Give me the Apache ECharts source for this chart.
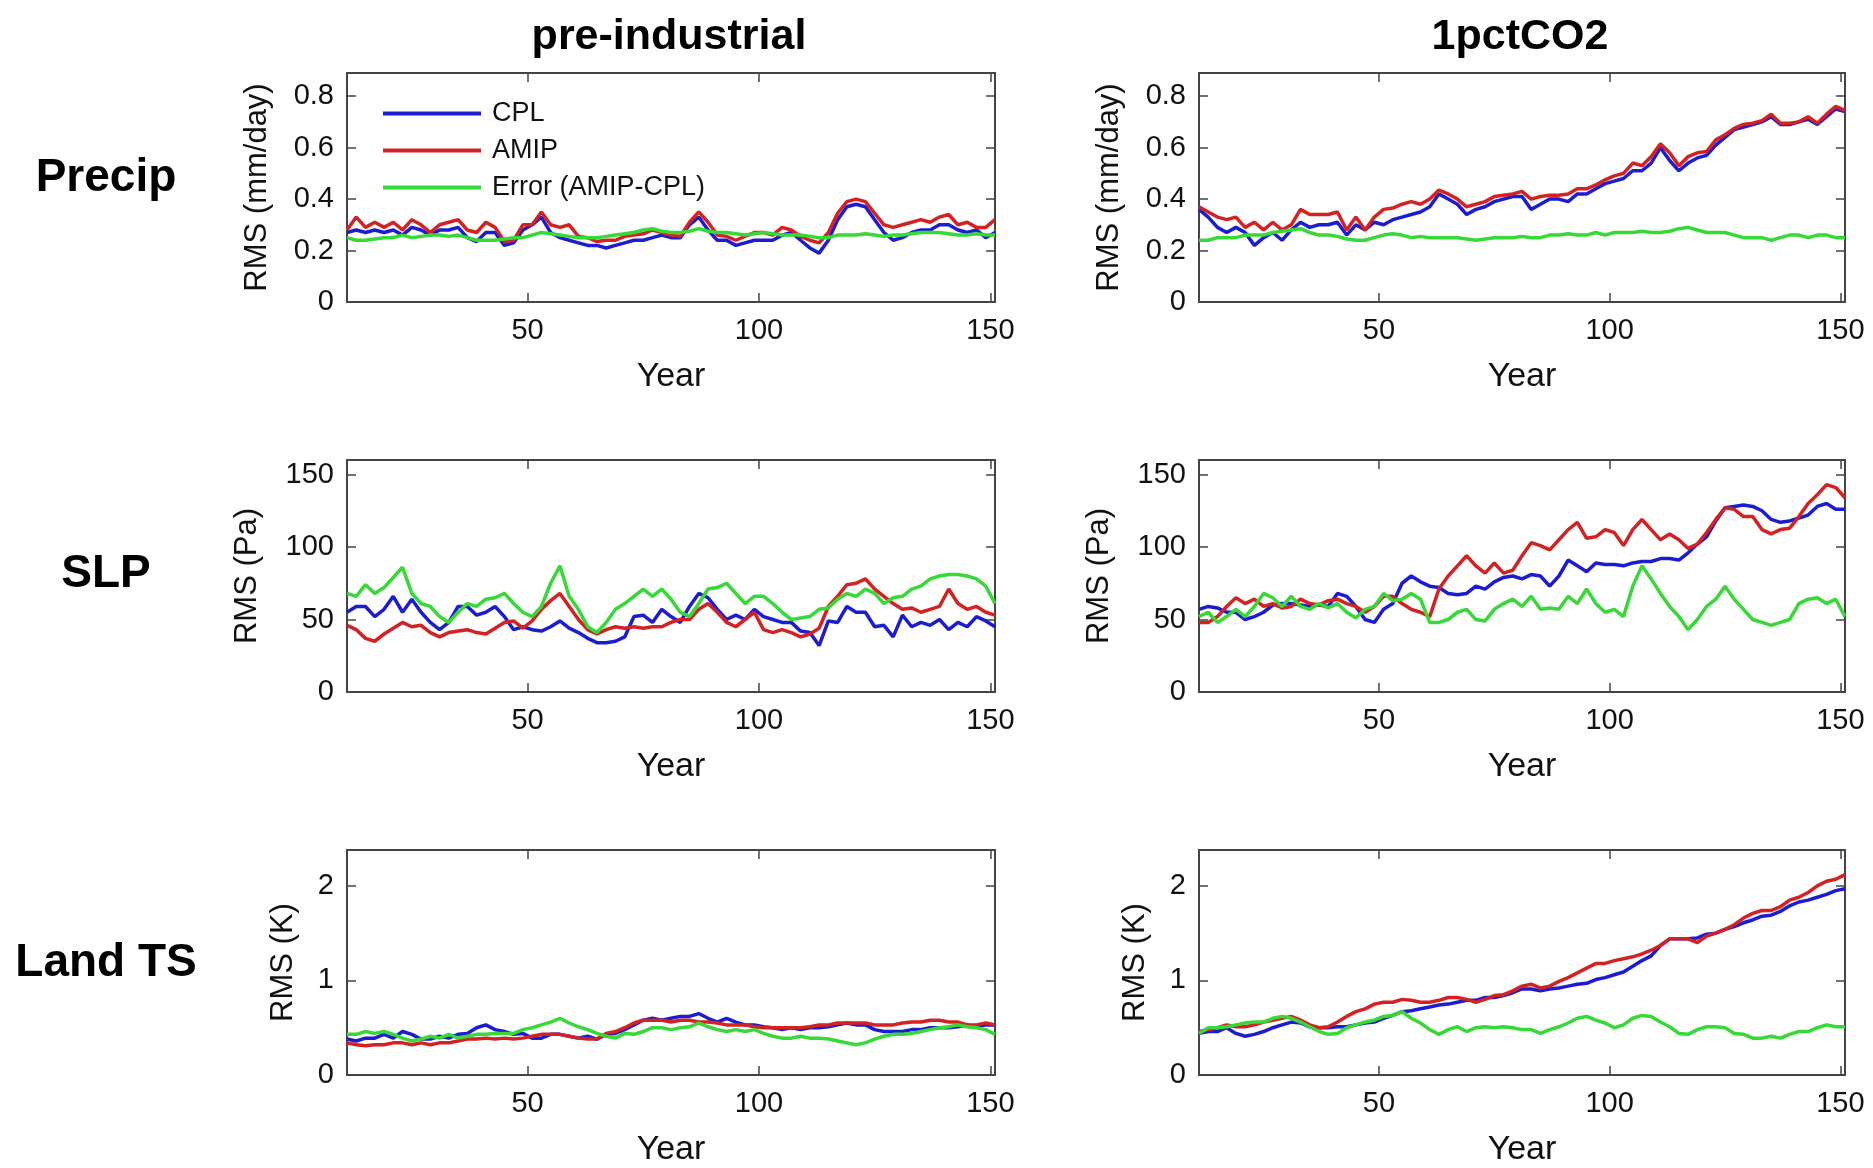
<!DOCTYPE html>
<html><head><meta charset="utf-8">
<script src="https://cdn.jsdelivr.net/npm/echarts@6.0.0/dist/echarts.min.js"></script>
<style>html,body{margin:0;padding:0;background:#fff}#c{width:1873px;height:1168px}</style>
</head><body><div id="c"></div>
<script>
// ---------- data ----------
const YEARS = [11,13,15,17,19,21,23,25,27,29,31,33,35,37,39,41,43,45,47,49,51,53,55,57,59,61,63,65,67,69,71,73,75,77,79,81,83,85,87,89,91,93,95,97,99,101,103,105,107,109,111,113,115,117,119,121,123,125,127,129,131,133,135,137,139,141,143,145,147,149,151];
const X_TICKS = [50, 100, 150];
const PRECIP_TICKS = [0, 0.2, 0.4, 0.6, 0.8];
const SLP_TICKS = [0, 50, 100, 150];
const TS_TICKS = [0, 1, 2];
const COLUMN_TITLES = ['pre-industrial', '1pctCO2'];
const ROW_TITLES = ['Precip', 'SLP', 'Land TS'];
const Y_NAMES = ['RMS (mm/day)', 'RMS (Pa)', 'RMS (K)'];
const X_NAME = 'Year';
const SERIES_NAMES = ['CPL', 'AMIP', 'Error (AMIP-CPL)'];

const PRECIP_PI_CPL = [0.27,0.28,0.27,0.28,0.27,0.28,0.26,0.29,0.28,0.26,0.28,0.28,0.29,0.25,0.235,0.27,0.27,0.22,0.23,0.28,0.30,0.33,0.27,0.25,0.24,0.23,0.22,0.22,0.21,0.22,0.23,0.24,0.24,0.25,0.26,0.25,0.25,0.30,0.33,0.28,0.24,0.24,0.22,0.23,0.24,0.24,0.24,0.26,0.27,0.24,0.21,0.19,0.24,0.32,0.37,0.38,0.37,0.32,0.27,0.24,0.25,0.27,0.28,0.28,0.30,0.30,0.28,0.27,0.28,0.25,0.27];
const PRECIP_PI_AMIP = [0.28,0.33,0.29,0.31,0.29,0.31,0.28,0.32,0.30,0.27,0.30,0.31,0.32,0.28,0.27,0.31,0.29,0.235,0.24,0.30,0.30,0.35,0.30,0.29,0.30,0.255,0.25,0.235,0.24,0.24,0.255,0.26,0.265,0.28,0.27,0.26,0.255,0.31,0.35,0.31,0.26,0.255,0.24,0.255,0.27,0.27,0.26,0.29,0.28,0.255,0.24,0.23,0.27,0.345,0.39,0.40,0.39,0.345,0.30,0.29,0.30,0.31,0.32,0.31,0.33,0.34,0.30,0.31,0.29,0.29,0.32];
const PRECIP_PI_ERR = [0.25,0.24,0.24,0.245,0.25,0.25,0.26,0.25,0.255,0.26,0.26,0.255,0.26,0.25,0.24,0.24,0.24,0.245,0.25,0.25,0.26,0.27,0.265,0.26,0.255,0.25,0.25,0.25,0.255,0.26,0.265,0.27,0.28,0.285,0.275,0.27,0.27,0.275,0.285,0.275,0.27,0.27,0.265,0.26,0.265,0.27,0.265,0.26,0.26,0.26,0.255,0.25,0.25,0.26,0.26,0.26,0.265,0.26,0.255,0.26,0.26,0.265,0.27,0.27,0.27,0.265,0.26,0.26,0.265,0.26,0.26];

const PRECIP_CO2_CPL = [0.36,0.33,0.29,0.27,0.29,0.27,0.22,0.25,0.27,0.24,0.28,0.31,0.29,0.30,0.30,0.31,0.26,0.30,0.28,0.31,0.30,0.32,0.33,0.34,0.35,0.37,0.42,0.40,0.38,0.34,0.36,0.37,0.39,0.40,0.41,0.41,0.36,0.38,0.40,0.40,0.39,0.42,0.42,0.44,0.46,0.47,0.48,0.51,0.51,0.54,0.60,0.55,0.51,0.54,0.56,0.57,0.61,0.64,0.67,0.68,0.69,0.70,0.72,0.69,0.69,0.70,0.71,0.69,0.72,0.75,0.74];
const PRECIP_CO2_AMIP = [0.37,0.35,0.33,0.32,0.33,0.29,0.31,0.28,0.31,0.28,0.30,0.36,0.34,0.34,0.34,0.35,0.28,0.33,0.28,0.33,0.36,0.365,0.38,0.39,0.38,0.40,0.435,0.42,0.40,0.37,0.38,0.39,0.41,0.415,0.42,0.43,0.40,0.41,0.415,0.415,0.42,0.44,0.44,0.455,0.475,0.49,0.50,0.54,0.53,0.565,0.615,0.58,0.53,0.565,0.58,0.585,0.63,0.65,0.675,0.69,0.695,0.705,0.73,0.695,0.695,0.70,0.72,0.695,0.73,0.76,0.745];
const PRECIP_CO2_ERR = [0.24,0.24,0.25,0.25,0.25,0.26,0.26,0.26,0.27,0.275,0.28,0.285,0.27,0.26,0.26,0.255,0.245,0.24,0.24,0.25,0.26,0.265,0.26,0.25,0.255,0.25,0.25,0.25,0.25,0.245,0.24,0.245,0.25,0.25,0.25,0.255,0.25,0.25,0.26,0.26,0.265,0.26,0.26,0.27,0.26,0.27,0.27,0.27,0.275,0.27,0.27,0.275,0.285,0.29,0.28,0.27,0.27,0.27,0.26,0.25,0.25,0.25,0.24,0.25,0.26,0.26,0.25,0.26,0.26,0.25,0.25];

const SLP_PI_CPL = [55,59,59,52,57,66,55,64,55,48,43,48,59,59,53,55,59,52,43,45,43,42,45,49,44,41,37,34,34,35,38,52,53,48,57,52,48,59,68,65,57,50,53,50,57,52,50,48,48,42,41,32,49,48,59,55,55,45,46,38,53,45,48,46,50,43,48,45,52,49,45];
const SLP_PI_AMIP = [46,43,37,35,40,44,48,45,46,41,38,41,42,43,41,40,44,48,49,44,49,57,63,68,59,50,43,40,43,45,44,45,44,45,45,48,50,50,57,61,55,48,45,50,55,43,41,43,41,38,40,44,59,66,74,75,78,71,66,61,57,58,55,57,59,71,61,57,59,55,53];
const SLP_PI_ERR = [68,66,74,68,72,79,86,68,61,59,52,48,55,61,59,64,65,68,61,55,52,59,75,87,66,57,45,41,48,57,61,66,71,66,71,64,55,52,61,71,72,75,68,61,66,66,61,55,50,51,52,57,58,64,68,66,71,68,61,65,66,71,73,78,80,81,81,80,78,73,61];

const SLP_CO2_CPL = [57,59,58,55,55,50,52,55,60,61,61,60,59,60,59,68,66,59,50,48,57,61,75,80,76,73,72,68,67,68,73,71,76,79,80,78,81,80,73,80,91,87,83,89,88,88,87,89,90,90,92,92,91,96,102,107,118,127,128,129,128,125,119,117,118,120,122,128,130,126,126];
const SLP_CO2_AMIP = [48,48,52,59,65,61,64,59,61,58,59,64,61,60,63,64,61,59,55,59,66,66,61,57,55,52,71,80,87,94,87,82,89,82,84,94,103,101,98,105,112,117,106,107,112,110,101,112,119,112,105,109,105,99,102,110,119,127,126,121,121,112,109,112,113,121,130,136,143,141,134];
const SLP_CO2_ERR = [52,55,48,52,57,52,59,68,65,59,66,59,57,61,58,61,55,51,57,59,68,63,64,68,64,48,48,50,55,57,50,49,57,61,64,59,66,57,58,57,66,61,71,61,55,57,52,73,87,78,68,59,52,43,50,59,64,73,64,57,50,48,46,48,50,61,64,65,61,64,52];

const TS_PI_CPL = [0.38,0.36,0.39,0.39,0.43,0.39,0.46,0.43,0.38,0.38,0.41,0.39,0.43,0.44,0.50,0.53,0.48,0.46,0.43,0.44,0.39,0.39,0.43,0.43,0.41,0.39,0.41,0.38,0.43,0.44,0.48,0.53,0.58,0.60,0.58,0.60,0.62,0.62,0.65,0.60,0.56,0.60,0.56,0.53,0.53,0.51,0.50,0.48,0.50,0.48,0.50,0.50,0.51,0.53,0.55,0.53,0.53,0.48,0.46,0.46,0.46,0.48,0.48,0.50,0.50,0.50,0.51,0.53,0.51,0.53,0.53];
const TS_PI_AMIP = [0.34,0.32,0.31,0.32,0.32,0.34,0.34,0.32,0.34,0.32,0.34,0.34,0.36,0.38,0.38,0.39,0.38,0.39,0.38,0.39,0.41,0.43,0.43,0.43,0.41,0.39,0.38,0.38,0.44,0.46,0.50,0.55,0.58,0.58,0.58,0.56,0.58,0.58,0.56,0.56,0.55,0.53,0.53,0.53,0.51,0.50,0.50,0.50,0.50,0.50,0.51,0.53,0.53,0.55,0.55,0.55,0.55,0.53,0.53,0.53,0.55,0.56,0.56,0.58,0.58,0.56,0.56,0.53,0.53,0.55,0.53];
const TS_PI_ERR = [0.43,0.43,0.46,0.44,0.46,0.43,0.39,0.36,0.38,0.41,0.39,0.43,0.39,0.41,0.43,0.43,0.44,0.44,0.44,0.48,0.50,0.53,0.56,0.60,0.55,0.51,0.48,0.44,0.41,0.39,0.44,0.43,0.46,0.50,0.50,0.48,0.50,0.51,0.55,0.51,0.48,0.46,0.48,0.46,0.48,0.44,0.41,0.39,0.39,0.41,0.39,0.39,0.38,0.36,0.34,0.32,0.34,0.38,0.41,0.43,0.43,0.44,0.46,0.48,0.50,0.51,0.53,0.51,0.50,0.48,0.43];

const TS_CO2_CPL = [0.44,0.46,0.46,0.50,0.44,0.41,0.43,0.46,0.50,0.53,0.56,0.55,0.51,0.50,0.50,0.51,0.51,0.53,0.55,0.56,0.60,0.63,0.67,0.68,0.70,0.72,0.74,0.75,0.77,0.79,0.79,0.82,0.82,0.84,0.87,0.91,0.91,0.89,0.91,0.92,0.94,0.96,0.97,1.01,1.03,1.06,1.09,1.15,1.21,1.26,1.37,1.44,1.44,1.44,1.45,1.49,1.50,1.54,1.57,1.61,1.64,1.68,1.69,1.73,1.79,1.83,1.85,1.88,1.91,1.95,1.97];
const TS_CO2_AMIP = [0.46,0.48,0.50,0.53,0.51,0.51,0.53,0.56,0.58,0.60,0.62,0.58,0.53,0.50,0.51,0.56,0.62,0.67,0.70,0.75,0.77,0.77,0.80,0.79,0.77,0.77,0.79,0.82,0.82,0.80,0.77,0.80,0.84,0.85,0.89,0.94,0.96,0.92,0.94,0.99,1.03,1.08,1.13,1.18,1.18,1.21,1.23,1.25,1.28,1.32,1.37,1.44,1.44,1.44,1.40,1.47,1.50,1.54,1.59,1.66,1.71,1.74,1.74,1.78,1.85,1.88,1.93,2.00,2.05,2.07,2.12];
const TS_CO2_ERR = [0.44,0.50,0.50,0.51,0.53,0.55,0.56,0.56,0.60,0.62,0.60,0.56,0.51,0.46,0.43,0.44,0.50,0.53,0.56,0.58,0.62,0.63,0.67,0.60,0.55,0.48,0.43,0.48,0.51,0.46,0.50,0.51,0.50,0.51,0.50,0.48,0.48,0.44,0.48,0.51,0.55,0.60,0.62,0.58,0.55,0.50,0.53,0.60,0.63,0.62,0.56,0.51,0.44,0.43,0.48,0.51,0.51,0.50,0.44,0.43,0.39,0.39,0.41,0.39,0.43,0.46,0.46,0.50,0.53,0.51,0.51];

// ---------- layout / style ----------
const FONT = 'Liberation Sans, Arial, Helvetica, sans-serif';
const COLORS = ['#1c1cd2', '#d42222', '#36d936'];
const AXIS_COLOR = '#444';
const COL_LEFT = [347, 1199];
const COL_WIDTH = [648, 646];
const ROW_TOP = [73, 460, 850];
const ROW_HEIGHT = [229, 232, 232];
const X_MIN = 11, X_MAX = 151;
const ROWS = [
  { ticks: PRECIP_TICKS, max: 0.89, nameGap: 74 },
  { ticks: SLP_TICKS, max: 160, nameGap: 84 },
  { ticks: TS_TICKS, max: 2.38, nameGap: 48 }
];
const PANELS = [
  { row: 0, col: 0, data: [PRECIP_PI_CPL, PRECIP_PI_AMIP, PRECIP_PI_ERR] },
  { row: 0, col: 1, data: [PRECIP_CO2_CPL, PRECIP_CO2_AMIP, PRECIP_CO2_ERR] },
  { row: 1, col: 0, data: [SLP_PI_CPL, SLP_PI_AMIP, SLP_PI_ERR] },
  { row: 1, col: 1, data: [SLP_CO2_CPL, SLP_CO2_AMIP, SLP_CO2_ERR] },
  { row: 2, col: 0, data: [TS_PI_CPL, TS_PI_AMIP, TS_PI_ERR] },
  { row: 2, col: 1, data: [TS_CO2_CPL, TS_CO2_AMIP, TS_CO2_ERR] }
];

const grid = [], xAxis = [], yAxis = [], series = [];
const lineAxis = { show: true, onZero: false, lineStyle: { color: AXIS_COLOR, width: 2 } };
const tickIn = (vals) => ({ show: true, inside: true, length: 9, customValues: vals, lineStyle: { color: AXIS_COLOR, width: 1.5 } });

PANELS.forEach((p, i) => {
  const r = ROWS[p.row];
  grid.push({ left: COL_LEFT[p.col], top: ROW_TOP[p.row], width: COL_WIDTH[p.col], height: ROW_HEIGHT[p.row], containLabel: false });
  xAxis.push({
    type: 'value', gridIndex: i, min: X_MIN, max: X_MAX, position: 'bottom',
    axisLine: lineAxis, axisTick: tickIn(X_TICKS), splitLine: { show: false },
    axisLabel: { customValues: X_TICKS, margin: 14, fontSize: 29, fontFamily: FONT, color: '#111' },
    name: X_NAME, nameLocation: 'middle', nameGap: 58,
    nameTextStyle: { fontSize: 34, fontFamily: FONT, color: '#111' }
  });
  xAxis.push({
    type: 'value', gridIndex: i, min: X_MIN, max: X_MAX, position: 'top',
    axisLine: lineAxis, axisTick: tickIn(X_TICKS), axisLabel: { show: false }, splitLine: { show: false }
  });
  yAxis.push({
    type: 'value', gridIndex: i, min: 0, max: r.max, position: 'left',
    axisLine: lineAxis, axisTick: tickIn(r.ticks), splitLine: { show: false },
    axisLabel: { customValues: r.ticks, margin: 13, fontSize: 29, fontFamily: FONT, color: '#111' },
    name: Y_NAMES[p.row], nameLocation: 'middle', nameGap: r.nameGap,
    nameTextStyle: { fontSize: 31, fontFamily: FONT, color: '#111' }
  });
  yAxis.push({
    type: 'value', gridIndex: i, min: 0, max: r.max, position: 'right',
    axisLine: lineAxis, axisTick: tickIn(r.ticks), axisLabel: { show: false }, splitLine: { show: false }
  });
  p.data.forEach((vals, k) => {
    series.push({
      type: 'line', name: SERIES_NAMES[k], xAxisIndex: 2 * i, yAxisIndex: 2 * i,
      data: YEARS.map((y, j) => [y, vals[j]]),
      showSymbol: false, symbol: 'none', clip: true, animation: false,
      lineStyle: { color: COLORS[k], width: 3.5 }, itemStyle: { color: COLORS[k] }, z: 2 + k
    });
  });
});

const graphic = [];
COLUMN_TITLES.forEach((t, c) => {
  graphic.push({ type: 'text', x: COL_LEFT[c] + COL_WIDTH[c] / 2 - 2, y: 37,
    style: { text: t, fontSize: 43, fontWeight: 'bold', fontFamily: FONT, fill: '#000', align: 'center', verticalAlign: 'middle', textAlign: 'center', textVerticalAlign: 'middle' } });
});
const ROW_LABEL_Y = [178, 574, 963];
ROW_TITLES.forEach((t, r) => {
  graphic.push({ type: 'text', x: 106, y: ROW_LABEL_Y[r],
    style: { text: t, fontSize: 46, fontWeight: 'bold', fontFamily: FONT, fill: '#000', align: 'center', verticalAlign: 'middle', textAlign: 'center', textVerticalAlign: 'middle' } });
});

const chart = echarts.init(document.getElementById('c'), null, { renderer: 'canvas' });
chart.setOption({
  backgroundColor: '#fff',
  animation: false,
  grid, xAxis, yAxis, series, graphic,
  legend: {
    data: SERIES_NAMES, left: 378, top: 95, orient: 'vertical', icon: 'rect',
    itemWidth: 98, itemHeight: 4, itemGap: 10, selectedMode: false,
    textStyle: { fontSize: 27, fontFamily: FONT, color: '#111', padding: [0, 0, 0, 6] }
  }
});
</script></body></html>
